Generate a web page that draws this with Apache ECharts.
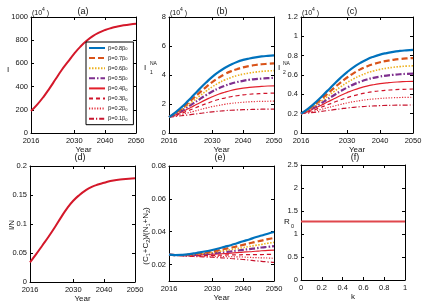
<!DOCTYPE html>
<html><head><meta charset="utf-8">
<script src="https://cdn.jsdelivr.net/npm/echarts@6/dist/echarts.min.js"></script>
<style>html,body{margin:0;padding:0;background:#fff}#c{width:426px;height:308px}</style>
</head><body><div id="c"></div>
<script>
const years = [2016,2018,2020,2022,2024,2026,2028,2030,2032,2034,2036,2038,2040,2042,2044,2046,2048,2050];
const xTicks = [2016,2030,2040,2050];
const legendNames = ['β=0.8β0','β=0.7β0','β=0.6β0','β=0.5β0','β=0.4β0','β=0.3β0','β=0.2β0','β=0.1β0'];

// (a) I (10^4)
const infected = [190,245,310,385,465,545,615,685,745,795,835,865,888,905,918,928,936,942];

// (b) I1^NA (10^4)
const i1NA = [
  [1.10,1.41,1.77,2.18,2.62,3.06,3.48,3.87,4.20,4.48,4.71,4.90,5.04,5.14,5.22,5.28,5.32,5.35],
  [1.10,1.37,1.68,2.04,2.42,2.80,3.17,3.51,3.80,4.05,4.25,4.40,4.53,4.62,4.69,4.74,4.77,4.80],
  [1.10,1.33,1.61,1.91,2.24,2.57,2.89,3.18,3.44,3.65,3.82,3.96,4.06,4.14,4.20,4.25,4.28,4.30],
  [1.10,1.29,1.53,1.79,2.06,2.34,2.61,2.86,3.07,3.25,3.40,3.51,3.60,3.67,3.72,3.75,3.78,3.80],
  [1.10,1.25,1.44,1.65,1.87,2.09,2.30,2.50,2.67,2.81,2.93,3.02,3.09,3.14,3.18,3.21,3.24,3.25],
  [1.10,1.22,1.36,1.52,1.69,1.86,2.02,2.17,2.31,2.41,2.50,2.57,2.63,2.67,2.70,2.72,2.74,2.75],
  [1.10,1.18,1.27,1.38,1.49,1.61,1.72,1.82,1.90,1.98,2.04,2.08,2.12,2.15,2.17,2.18,2.19,2.20],
  [1.10,1.14,1.19,1.24,1.30,1.35,1.41,1.46,1.50,1.54,1.57,1.59,1.61,1.62,1.63,1.64,1.65,1.65]
];

// (c) I2^NA (10^4)
const i2NA = [
  [0.200,0.248,0.304,0.368,0.436,0.504,0.570,0.630,0.682,0.725,0.761,0.789,0.811,0.827,0.840,0.849,0.855,0.860],
  [0.200,0.241,0.291,0.346,0.405,0.465,0.522,0.574,0.620,0.658,0.689,0.713,0.732,0.746,0.757,0.765,0.771,0.775],
  [0.200,0.236,0.278,0.326,0.377,0.428,0.477,0.522,0.561,0.594,0.621,0.642,0.658,0.670,0.680,0.687,0.692,0.695],
  [0.200,0.230,0.266,0.305,0.348,0.391,0.432,0.470,0.503,0.530,0.553,0.571,0.584,0.594,0.602,0.608,0.612,0.615],
  [0.200,0.224,0.253,0.285,0.320,0.354,0.388,0.418,0.445,0.467,0.485,0.499,0.510,0.518,0.525,0.529,0.533,0.535],
  [0.200,0.218,0.240,0.265,0.291,0.317,0.343,0.366,0.386,0.403,0.417,0.428,0.436,0.442,0.447,0.451,0.453,0.455],
  [0.200,0.212,0.227,0.243,0.261,0.278,0.295,0.311,0.324,0.335,0.345,0.352,0.357,0.362,0.365,0.367,0.369,0.370],
  [0.200,0.206,0.214,0.223,0.232,0.241,0.250,0.259,0.266,0.272,0.277,0.280,0.283,0.286,0.287,0.288,0.289,0.290]
];

// (d) I/N
const propIN = [0.034,0.048,0.063,0.078,0.094,0.111,0.127,0.140,0.150,0.158,0.164,0.168,0.171,0.174,0.176,0.177,0.178,0.179];

// (e) (C1+C2)/(N1+N2)
const ratioC = [
  [0.0260,0.0258,0.0259,0.0262,0.0268,0.0274,0.0281,0.0289,0.0298,0.0308,0.0318,0.0330,0.0342,0.0353,0.0366,0.0377,0.0388,0.0398],
  [0.0260,0.0258,0.0258,0.0260,0.0264,0.0269,0.0275,0.0280,0.0287,0.0295,0.0302,0.0311,0.0320,0.0329,0.0338,0.0346,0.0355,0.0362],
  [0.0260,0.0258,0.0257,0.0258,0.0262,0.0265,0.0269,0.0274,0.0279,0.0285,0.0291,0.0297,0.0304,0.0310,0.0317,0.0323,0.0330,0.0335],
  [0.0260,0.0258,0.0257,0.0257,0.0259,0.0262,0.0265,0.0268,0.0272,0.0276,0.0280,0.0285,0.0290,0.0294,0.0299,0.0304,0.0308,0.0312],
  [0.0260,0.0257,0.0256,0.0256,0.0257,0.0259,0.0261,0.0263,0.0265,0.0267,0.0270,0.0273,0.0276,0.0278,0.0281,0.0284,0.0286,0.0288],
  [0.0260,0.0257,0.0255,0.0254,0.0254,0.0255,0.0255,0.0256,0.0257,0.0258,0.0259,0.0259,0.0260,0.0260,0.0261,0.0261,0.0262,0.0262],
  [0.0260,0.0257,0.0255,0.0253,0.0252,0.0252,0.0251,0.0251,0.0250,0.0249,0.0248,0.0247,0.0246,0.0244,0.0242,0.0241,0.0240,0.0238],
  [0.0260,0.0256,0.0254,0.0251,0.0249,0.0248,0.0246,0.0245,0.0242,0.0240,0.0237,0.0234,0.0231,0.0227,0.0223,0.0220,0.0216,0.0213]
];

// (f) R0 vs k
const kValues = [0,0.1,0.2,0.3,0.4,0.5,0.6,0.7,0.8,0.9,1];
const r0Values = [1.27,1.27,1.27,1.27,1.27,1.27,1.27,1.27,1.27,1.27,1.27];

const FONT = 'Liberation Sans, Arial, sans-serif';
const styles = [
  {color:'#0072BD', width:2.2, type:'solid'},
  {color:'#D95319', width:2.2, type:[6,3]},
  {color:'#EDB120', width:1.6, type:[1.5,1.5]},
  {color:'#7E2F8E', width:2.2, type:[6,2,1.5,2]},
  {color:'#E3202B', width:1.2, type:'solid'},
  {color:'#D0142B', width:1.2, type:[4,3]},
  {color:'#E3303C', width:1.2, type:[1.2,1.5]},
  {color:'#C8142E', width:1.2, type:[5,2,1.2,2]}
];

const grids = [
  {left:31, top:17, width:105, height:116},
  {left:169, top:17, width:105, height:116},
  {left:301, top:17, width:112, height:116},
  {left:30, top:166, width:105, height:116},
  {left:169, top:166, width:105, height:115},
  {left:301, top:165, width:104, height:115}
];
const xCfg = [
  {min:2016,max:2050,custom:xTicks,name:'Year'},
  {min:2016,max:2050,custom:xTicks,name:'Year'},
  {min:2016,max:2050,custom:xTicks,name:'Year'},
  {min:2016,max:2050,custom:xTicks,name:'Year'},
  {min:2016,max:2050,custom:xTicks,name:'Year'},
  {min:0,max:1,interval:0.2,name:'k'}
];
const yCfg = [
  {min:0,max:1000,interval:200},
  {min:0,max:8,interval:2},
  {min:0,max:1.2,interval:0.2},
  {min:0,max:0.2,interval:0.05},
  {min:0.01,max:0.08,custom:[0.02,0.04,0.06,0.08]},
  {min:0,max:2.5,interval:0.5}
];

function fmt(v){ return String(Math.round(v*1e6)/1e6); }
function axis(kind, gi, cfg, secondary){
  const a = {
    type:'value', gridIndex:gi, min:cfg.min, max:cfg.max,
    position: kind==='x' ? (secondary?'top':'bottom') : (secondary?'right':'left'),
    axisLine:{show:true, onZero:false, lineStyle:{color:'#000', width:1}},
    axisTick:{show:true, inside:true, length:3, lineStyle:{color:'#000', width:1}},
    splitLine:{show:false},
    axisLabel:{show:!secondary, fontSize:7.5, color:'#111', margin:kind==='x'?4:3, fontFamily:FONT, formatter:fmt}
  };
  if (cfg.interval!==undefined) a.interval = cfg.interval;
  if (cfg.custom){ a.axisTick.customValues = cfg.custom; a.axisLabel.customValues = cfg.custom; }
  if (kind==='x' && !secondary && cfg.name){
    a.name = cfg.name; a.nameLocation='middle'; a.nameGap = cfg.name==='k'?9:10;
    a.nameTextStyle = {fontSize:8, color:'#111', fontFamily:FONT, verticalAlign:'top'};
  }
  return a;
}
const xAxis=[], yAxis=[];
grids.forEach((g,i)=>{
  xAxis.push(axis('x',i,xCfg[i],false)); xAxis.push(axis('x',i,xCfg[i],true));
  yAxis.push(axis('y',i,yCfg[i],false)); yAxis.push(axis('y',i,yCfg[i],true));
});

function pairs(xs, ys){ return xs.map((x,j)=>[x, ys[j]]); }
const series = [];
series.push({type:'line', name:'_a', xAxisIndex:0, yAxisIndex:0, symbol:'none', smooth:true,
  data:pairs(years, infected), lineStyle:{color:'#D4182A', width:2}});
[[i1NA,1],[i2NA,2],[ratioC,4]].forEach(([rows,gi])=>{
  rows.forEach((row,k)=>{
    const s = styles[k];
    series.push({type:'line', name:legendNames[k], xAxisIndex:gi*2, yAxisIndex:gi*2, symbol:'none', smooth:true,
      data:pairs(years,row), color:s.color, lineStyle:{color:s.color, width:s.width, type:s.type}, z:10-k});
  });
});
series.push({type:'line', name:'_d', xAxisIndex:6, yAxisIndex:6, symbol:'none', smooth:true,
  data:pairs(years, propIN), lineStyle:{color:'#D4182A', width:2}});
series.push({type:'line', name:'_f', xAxisIndex:10, yAxisIndex:10, symbol:'none',
  data:pairs(kValues, r0Values), lineStyle:{color:'#E0474C', width:2}});

function txt(x,y,text,size,extra){
  return Object.assign({type:'text', x:x, y:y, silent:true,
    style:Object.assign({text:text, font:size+'px '+FONT, fill:'#111', textAlign:'center', textVerticalAlign:'middle'}, extra||{})});
}
function tenFour(x,y){
  return {type:'text', x:x, y:y, silent:true, style:{
    text:'{n|(10}{s|4}{n| )}', textAlign:'left', textVerticalAlign:'middle', fill:'#111',
    rich:{n:{fontSize:7, fontFamily:FONT, lineHeight:9, verticalAlign:'bottom'}, s:{fontSize:5, fontFamily:FONT, lineHeight:9, verticalAlign:'top', padding:[0,0,4,0]}}
  }};
}
const graphic = [
  txt(83,12,'(a)',9), txt(222,12,'(b)',9), txt(352,12,'(c)',9),
  txt(80,158,'(d)',9), txt(220,158,'(e)',9), txt(355,158,'(f)',9),
  tenFour(32,12), tenFour(170,12), tenFour(302,12),
  txt(8,70,'I',8),
  txt(145,68,'I',8), txt(150,64,'NA',5,{textAlign:'left'}), txt(150,73,'1',5,{textAlign:'left'}),
  txt(279,68,'I',8), txt(283,64,'NA',5,{textAlign:'left'}), txt(283,73,'2',5,{textAlign:'left'}),
  {type:'text', x:12, y:225, rotation:Math.PI/2, silent:true, style:{text:'I/N', font:'8px '+FONT, fill:'#111', textAlign:'center', textVerticalAlign:'middle'}},
  {type:'text', x:146, y:236, rotation:Math.PI/2, silent:true, style:{
    text:'{n|(C}{s|1}{n|+C}{s|2}{n|)/(N}{s|1}{n|+N}{s|2}{n|)}', fill:'#111', textAlign:'center', textVerticalAlign:'middle',
    rich:{n:{fontSize:8, fontFamily:FONT, lineHeight:10}, s:{fontSize:5.5, fontFamily:FONT, lineHeight:6, verticalAlign:'bottom'}}
  }},
  txt(287,222,'R',8), txt(291,226,'0',5.5,{textAlign:'left'})
];

const chart = echarts.init(document.getElementById('c'), null, {renderer:'canvas'});
chart.setOption({
  animation:false,
  backgroundColor:'#fff',
  grid:grids,
  xAxis:xAxis, yAxis:yAxis,
  legend:{
    data:legendNames, orient:'vertical', left:86, top:42,
    itemWidth:16, itemHeight:6, itemGap:4.1,
    padding:[3,6,3,2], backgroundColor:'#fff', borderColor:'#000', borderWidth:1, borderRadius:0,
    selectedMode:false,
    itemStyle:{opacity:0},
    formatter:function(n){ return '{t|'+n.slice(0,-1)+'}{s|0}'; },
    textStyle:{color:'#111', padding:[0,0,0,-2], rich:{t:{fontSize:5.5, fontFamily:FONT}, s:{fontSize:4, fontFamily:FONT, verticalAlign:'bottom', lineHeight:6}}}
  },
  graphic:graphic,
  series:series
});
</script></body></html>
